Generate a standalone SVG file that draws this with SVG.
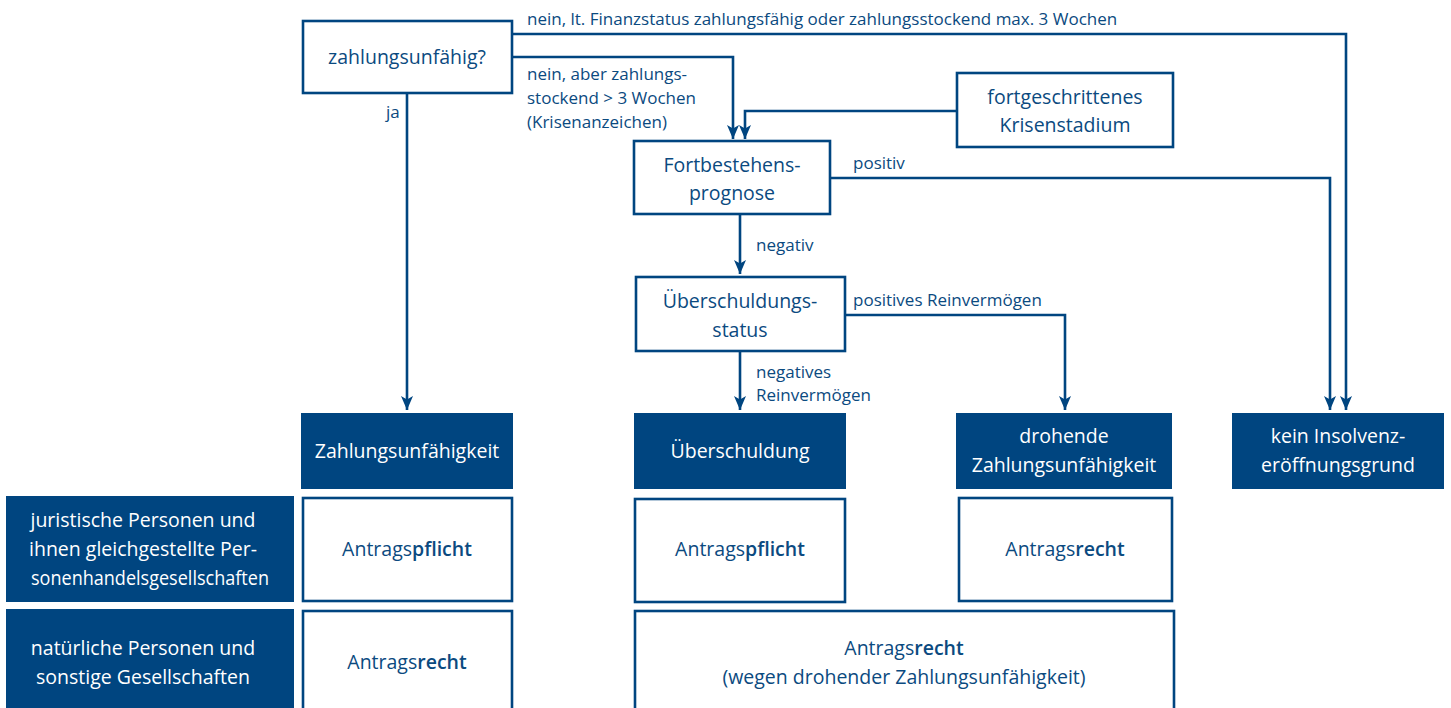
<svg xmlns="http://www.w3.org/2000/svg" width="1451" height="708" viewBox="0 0 1451 708">
<defs>
<marker id="ah" markerUnits="userSpaceOnUse" markerWidth="16" markerHeight="14" refX="14" refY="6" orient="auto">
<path d="M0,0 L14,6 L0,12 L3.5,6 Z" fill="#004580"/>
</marker>
<style>
text{font-family:"Open Sans","Noto Sans","Liberation Sans",sans-serif;text-anchor:middle}
.box{fill:#fff;stroke:#004580;stroke-width:2.6}
.dark{fill:#004580}
.t{font-size:19.5px;fill:#0b4a80}
.w{font-size:19.5px;fill:#fff}
.lbl{font-size:17px;fill:#0b4a80;text-anchor:start}
.b{font-weight:600}
.con{fill:none;stroke:#004580;stroke-width:2.6;marker-end:url(#ah)}
</style>
</defs>
<rect width="1451" height="708" fill="#fff"/>
<g id="connectors">
<path class="con" d="M512,34 H1346 V410"/>
<path class="con" d="M512,57 H733 V139"/>
<path class="con" d="M957,111 H745 V139"/>
<path class="con" d="M407,93 V410"/>
<path class="con" d="M830,178 H1330 V410"/>
<path class="con" d="M740,214 V274"/>
<path class="con" d="M845,315 H1065 V410"/>
<path class="con" d="M740,351 V410"/>
</g>
<g id="labels">
<text class="lbl" x="527" y="25">nein, lt. Finanzstatus zahlungsfähig oder zahlungsstockend max. 3 Wochen</text>
<text class="lbl" x="527" y="80">nein, aber zahlungs-</text>
<text class="lbl" x="527" y="104">stockend &gt; 3 Wochen</text>
<text class="lbl" x="527" y="128">(Krisenanzeichen)</text>
<text class="lbl" x="386" y="118">ja</text>
<text class="lbl" x="853" y="169">positiv</text>
<text class="lbl" x="756" y="251">negativ</text>
<text class="lbl" x="853" y="306">positives Reinvermögen</text>
<text class="lbl" x="756" y="378">negatives</text>
<text class="lbl" x="756" y="401">Reinvermögen</text>
</g>
<g id="n-zahlungsunfaehig">
<rect class="box" x="303" y="21" width="209" height="72"/>
<text class="t" x="407" y="64">zahlungsunfähig?</text>
</g>
<g id="n-krisenstadium">
<rect class="box" x="957" y="73" width="216" height="74"/>
<text class="t" x="1065" y="104">fortgeschrittenes</text>
<text class="t" x="1065" y="132">Krisenstadium</text>
</g>
<g id="n-fortbestehen">
<rect class="box" x="634" y="141" width="196" height="73"/>
<text class="t" x="732" y="172">Fortbestehens-</text>
<text class="t" x="732" y="200">prognose</text>
</g>
<g id="n-ueberschuldungsstatus">
<rect class="box" x="636" y="277" width="209" height="74"/>
<text class="t" x="740" y="308">Überschuldungs-</text>
<text class="t" x="740" y="337">status</text>
</g>
<g id="n-zahlungsunfaehigkeit">
<rect class="dark" x="301" y="413" width="212" height="76"/>
<text class="w" x="407" y="458">Zahlungsunfähigkeit</text>
</g>
<g id="n-ueberschuldung">
<rect class="dark" x="634" y="413" width="212" height="76"/>
<text class="w" x="740" y="458">Überschuldung</text>
</g>
<g id="n-drohend">
<rect class="dark" x="956" y="413" width="216" height="76"/>
<text class="w" x="1064" y="443">drohende</text>
<text class="w" x="1064" y="472">Zahlungsunfähigkeit</text>
</g>
<g id="n-kein">
<rect class="dark" x="1232" y="413" width="212" height="76"/>
<text class="w" x="1338" y="443">kein Insolvenz-</text>
<text class="w" x="1338" y="472">eröffnungsgrund</text>
</g>
<g id="n-juristisch">
<rect class="dark" x="6" y="496" width="288" height="106"/>
<text class="w" x="143" y="527">juristische Personen und</text>
<text class="w" x="143" y="556">ihnen gleichgestellte Per-</text>
<text class="w" x="150" y="585" textLength="238" lengthAdjust="spacingAndGlyphs">sonenhandelsgesellschaften</text>
</g>
<g id="n-pflicht1">
<rect class="box" x="303" y="498" width="209" height="103"/>
<text class="t" x="407" y="556">Antrags<tspan class="b">pflicht</tspan></text>
</g>
<g id="n-pflicht2">
<rect class="box" x="635" y="499" width="210" height="103"/>
<text class="t" x="740" y="556">Antrags<tspan class="b">pflicht</tspan></text>
</g>
<g id="n-recht1">
<rect class="box" x="959" y="498" width="213" height="103"/>
<text class="t" x="1065" y="556">Antrags<tspan class="b">recht</tspan></text>
</g>
<g id="n-natuerlich">
<rect class="dark" x="6" y="609" width="288" height="110"/>
<text class="w" x="143" y="655">natürliche Personen und</text>
<text class="w" x="143" y="684">sonstige Gesellschaften</text>
</g>
<g id="n-recht2">
<rect class="box" x="303" y="611" width="209" height="110"/>
<text class="t" x="407" y="669">Antrags<tspan class="b">recht</tspan></text>
</g>
<g id="n-recht3">
<rect class="box" x="635" y="611" width="539" height="110"/>
<text class="t" x="904" y="655">Antrags<tspan class="b">recht</tspan></text>
<text class="t" x="904" y="684">(wegen drohender Zahlungsunfähigkeit)</text>
</g>
</svg>
